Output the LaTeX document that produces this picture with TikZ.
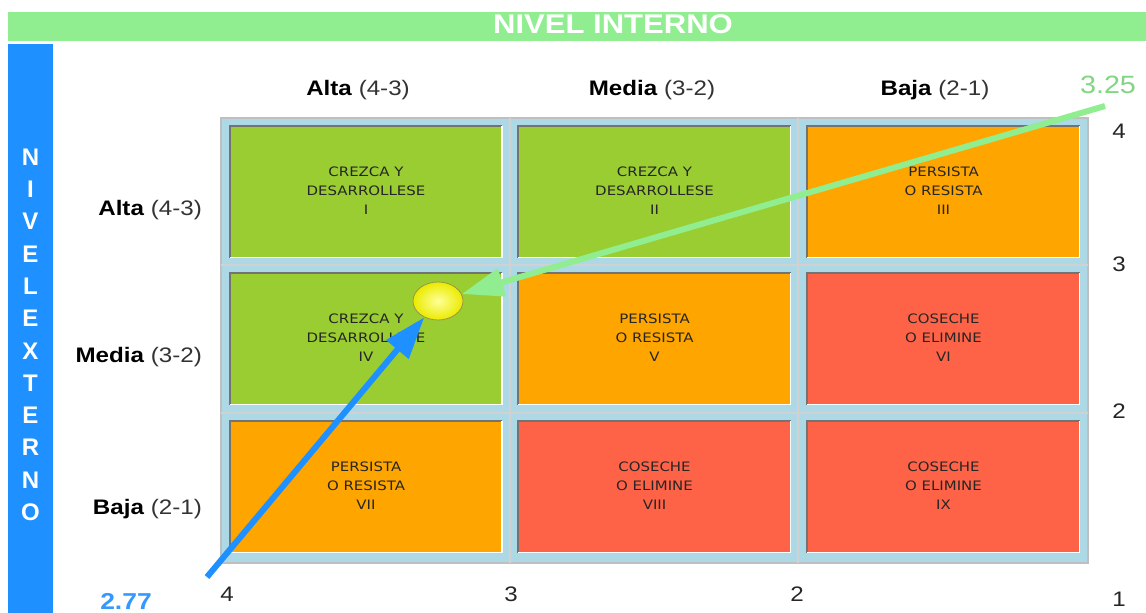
\documentclass[tikz,border=0pt]{standalone}
\usepackage{fontspec}
\setmainfont{Liberation Sans}
\newfontfamily\cellfont{DejaVu Sans}
\usetikzlibrary{arrows.meta,shapes.geometric}
\definecolor{ygreen}{HTML}{9ACD32}
\definecolor{orng}{HTML}{FFA500}
\definecolor{tomred}{HTML}{FF6347}
\definecolor{lblue}{HTML}{ADD8E6}
\definecolor{lgreen}{HTML}{90EE90}
\definecolor{dblue}{HTML}{1E90FF}
\definecolor{numblue}{HTML}{3399FF}
\definecolor{txtgray}{HTML}{333333}
\newcommand{\hs}[1]{\scalebox{1.15}[1]{#1}}
\newcommand{\celltxt}[3]{\hs{\begin{tabular}{@{}c@{}}#1\\#2\\#3\end{tabular}}}
\tikzset{
  cellbox/.style={rectangle, minimum width=272pt, minimum height=131pt, inner sep=0pt,
    font=\cellfont\fontsize{13}{19}\selectfont, text=black!85},
  headlbl/.style={anchor=base, font=\fontsize{21}{25}\selectfont, text=black, inner sep=0pt},
  numlbl/.style={anchor=base, font=\fontsize{21}{24}\selectfont, text=black!85, inner sep=0pt},
  sideletter/.style={font=\bfseries\fontsize{24}{28}\selectfont, text=white, inner sep=0pt},
  bigarrow/.style={line width=6pt, -{Triangle[length=42pt,width=28pt]}},
}
\begin{document}
\begin{tikzpicture}[x=1pt,y=-1pt]
\useasboundingbox (0,0) rectangle (1146,613);
\fill[white] (0,0) rectangle (1146,613);
% top bar
\fill[lgreen] (8,12) rectangle (1146,41);
\node[font=\bfseries\fontsize{27}{30}\selectfont, text=white, inner sep=0pt] (toptitle) at (613,24) {\hs{NIVEL INTERNO}};
% side bar
\fill[dblue] (8,44) rectangle (53,613);
\foreach \l [count=\i from 0] in {N,I,V,E,L,E,X,T,E,R,N,O}
  \node[sideletter] (s\i) at (30.5,{157+32.3*\i}) {\l};
% frame
\fill[lblue] (221,118) rectangle (1088,563);
\draw[black!25, line width=2.5pt] (221,118) rectangle (1088,563);
\draw[black!18, line width=2.5pt] (510,118) -- (510,563) (798,118) -- (798,563)
  (221,265) -- (1088,265) (221,413) -- (1088,413);
% cells
\node[cellbox, fill=ygreen] (c1) at (366,192) {\celltxt{CREZCA Y}{DESARROLLESE}{I}};
\node[cellbox, fill=ygreen] (c2) at (654.5,192) {\celltxt{CREZCA Y}{DESARROLLESE}{II}};
\node[cellbox, fill=orng] (c3) at (943.5,192) {\celltxt{PERSISTA}{O RESISTA}{III}};
\node[cellbox, fill=ygreen] (c4) at (366,339) {\celltxt{CREZCA Y}{DESARROLLESE}{IV}};
\node[cellbox, fill=orng] (c5) at (654.5,339) {\celltxt{PERSISTA}{O RESISTA}{V}};
\node[cellbox, fill=tomred] (c6) at (943.5,339) {\celltxt{COSECHE}{O ELIMINE}{VI}};
\node[cellbox, fill=orng] (c7) at (366,487) {\celltxt{PERSISTA}{O RESISTA}{VII}};
\node[cellbox, fill=tomred] (c8) at (654.5,487) {\celltxt{COSECHE}{O ELIMINE}{VIII}};
\node[cellbox, fill=tomred] (c9) at (943.5,487) {\celltxt{COSECHE}{O ELIMINE}{IX}};
\foreach \c in {c1,c2,c3,c4,c5,c6,c7,c8,c9}{
  \draw[black!55, line width=2pt] (\c.south west) -- (\c.north west) -- (\c.north east);
  \draw[white, line width=1.5pt] (\c.north east) -- (\c.south east) -- (\c.south west);
}
% column headers
\node[headlbl] (h1) at (358,95) {\hs{\textbf{Alta} \textcolor{txtgray}{(4-3)}}};
\node[headlbl] (h2) at (652,95) {\hs{\textbf{Media} \textcolor{txtgray}{(3-2)}}};
\node[headlbl] (h3) at (935,95) {\hs{\textbf{Baja} \textcolor{txtgray}{(2-1)}}};
% row headers
\node[headlbl, anchor=base east] (r1) at (202,215) {\hs{\textbf{Alta} \textcolor{txtgray}{(4-3)}}};
\node[headlbl, anchor=base east] (r2) at (202,362) {\hs{\textbf{Media} \textcolor{txtgray}{(3-2)}}};
\node[headlbl, anchor=base east] (r3) at (202,514) {\hs{\textbf{Baja} \textcolor{txtgray}{(2-1)}}};
% axis numbers
\node[numlbl] (y4) at (1119,138) {\hs{4}};
\node[numlbl] (y3) at (1119,271) {\hs{3}};
\node[numlbl] (y2) at (1119,418) {\hs{2}};
\node[numlbl] (y1) at (1119,606) {\hs{1}};
\node[numlbl] (x4) at (227,601) {\hs{4}};
\node[numlbl] (x3) at (511,601) {\hs{3}};
\node[numlbl] (x2) at (797,601) {\hs{2}};
\node[anchor=base, inner sep=0pt, font=\fontsize{25}{28}\selectfont, text=lgreen!90!black] (v325) at (1108,93) {\hs{3.25}};
\node[anchor=base, inner sep=0pt, font=\bfseries\fontsize{23}{26}\selectfont, text=numblue] (v277) at (126,609) {\hs{2.77}};
% ball and arrows
\node[ellipse, minimum width=50pt, minimum height=38pt, inner sep=0pt,
  inner color=yellow!40!white, outer color=yellow!92!black,
  draw=yellow!55!black, line width=0.8pt] (ball) at (438,301) {};
\coordinate (g0) at (1105,106);
\coordinate (b0) at (207,577);
\draw[bigarrow, lgreen] (g0) -- (ball);
\draw[bigarrow, dblue] (b0) -- (ball);
\end{tikzpicture}
\end{document}
